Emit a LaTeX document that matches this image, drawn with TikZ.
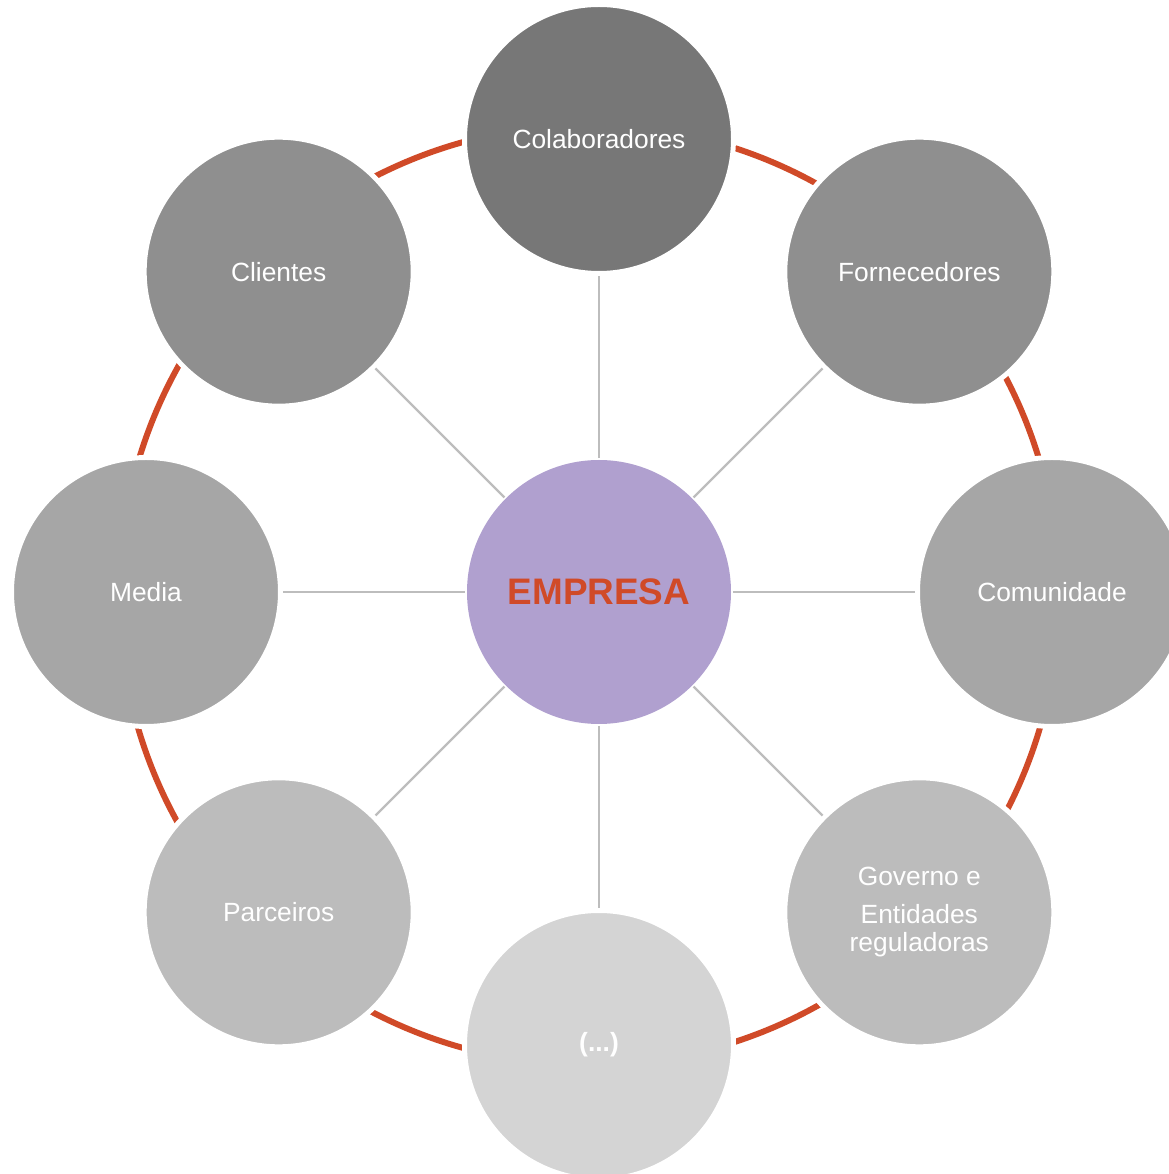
\documentclass[tikz,border=0pt]{standalone}
\usepackage{fontspec}
\setmainfont{Liberation Sans}
\usepackage{tikz}
\definecolor{anel}{HTML}{D04A28}
\definecolor{raio}{HTML}{BDBDBD}
\definecolor{centro}{HTML}{B0A0CF}
\definecolor{cinzaA}{HTML}{777777}
\definecolor{cinzaB}{HTML}{8F8F8F}
\definecolor{cinzaC}{HTML}{A6A6A6}
\definecolor{cinzaD}{HTML}{BCBCBC}
\definecolor{cinzaE}{HTML}{D4D4D4}
\tikzset{
  parte/.style={circle,minimum size=2.64cm+1.4pt,inner sep=0pt,
    draw=white,line width=1.4pt,
    text=white,font=\fontsize{7.5}{8}\selectfont,align=center},
  raiolinha/.style={draw=raio,line width=0.7pt},
}
\begin{document}
\begin{tikzpicture}
\useasboundingbox (0,0) rectangle (11.69,11.74);
\clip (0,0) rectangle (11.69,11.74);
%anel
\coordinate (o) at (5.99,5.82);
\draw [anel,line width=1.7pt] (5.89,5.79) circle (4.70);
%partes interessadas
\node[parte,fill=cinzaA] (colab) at ([shift={(90:4.53)}]o) {Colaboradores};
\node[parte,fill=cinzaB] (forn) at ([shift={(45:4.53)}]o) {Fornecedores};
\node[parte,fill=cinzaC] (comun) at ([shift={(0:4.53)}]o) {Comunidade};
\node[parte,fill=cinzaD] (gov) at ([shift={(-45:4.53)}]o) {Governo e\\[2.8pt]Entidades\\reguladoras};
\node[parte,fill=cinzaE,font=\fontsize{7.5}{8}\selectfont\bfseries] (outros) at ([shift={(-90:4.53)}]o) {(...)};
\node[parte,fill=cinzaD] (parc) at ([shift={(-135:4.53)}]o) {Parceiros};
\node[parte,fill=cinzaC] (media) at ([shift={(180:4.53)}]o) {Media};
\node[parte,fill=cinzaB] (cli) at ([shift={(135:4.53)}]o) {Clientes};
%centro
\node[parte,draw=none,minimum size=2.64cm,outer sep=0.5pt,fill=centro,text=anel,font=\fontsize{10.5}{12}\selectfont\bfseries] (empresa) at (o) {EMPRESA};
%raios
\draw [raiolinha] (empresa) -- (colab);
\draw [raiolinha] (empresa) -- (forn);
\draw [raiolinha] (empresa) -- (comun);
\draw [raiolinha] (empresa) -- (gov);
\draw [raiolinha] (empresa) -- (outros);
\draw [raiolinha] (empresa) -- (parc);
\draw [raiolinha] (empresa) -- (media);
\draw [raiolinha] (empresa) -- (cli);
\end{tikzpicture}
\end{document}
